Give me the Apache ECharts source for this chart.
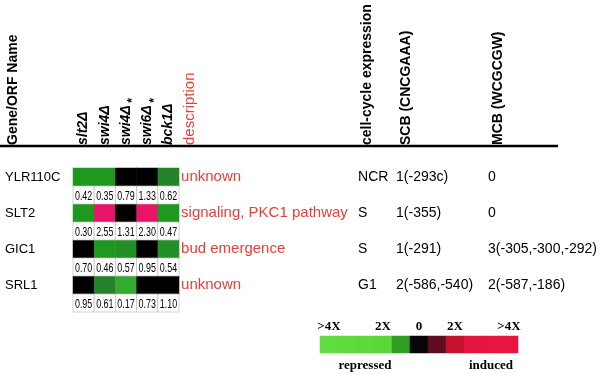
<!DOCTYPE html>
<html>
<head>
<meta charset="utf-8">
<script src="https://cdn.jsdelivr.net/npm/echarts@6/dist/echarts.min.js"></script>
<style>
  html, body { margin: 0; background: #fff; }
  #chart { width: 600px; height: 374px; }
</style>
</head>
<body>
<div id="chart"></div>
<script>
var genes = ['YLR110C', 'SLT2', 'GIC1', 'SRL1'];
var strains = ['slt2Δ', 'swi4Δ', 'swi4Δ*', 'swi6Δ*', 'bck1Δ'];
var ratios = [
  [0.42, 0.35, 0.79, 1.33, 0.62],
  [0.30, 2.55, 1.31, 2.30, 0.47],
  [0.70, 0.46, 0.57, 0.95, 0.54],
  [0.95, 0.61, 0.17, 0.73, 1.10]
];
var descriptions = ['unknown', 'signaling, PKC1 pathway', 'bud emergence', 'unknown'];
var cellCycle = ['NCR', 'S', 'S', 'G1'];
var scb = ['1(-293c)', '1(-355)', '1(-291)', '2(-586,-540)'];
var mcb = ['0', '0', '3(-305,-300,-292)', '2(-587,-186)'];
var legendTop = ['>4X', '', '', '2X', '', '0', '', '2X', '', '', '>4X'];
var legendBottom = ['', '', 'repressed', '', '', '', '', '', '', 'induced', ''];

// colours of the key strip, left to right
var keyColors = ['#62dc3e', '#60db3c', '#5ed93b', '#5bd739', '#2f9f24', '#060606',
  '#5e0c22', '#c4122f', '#e3143f', '#e6163f', '#e8163f'];

var sans = 'Liberation Sans, Arial, sans-serif';
var serif = 'Liberation Serif, Times New Roman, serif';

// one row for the colours, one row for the numbers, per gene
var rows = [];
genes.forEach(function (g) { rows.push(g); rows.push(g + ' ratios'); });

var cells = [], values = [];
ratios.forEach(function (r, i) {
  r.forEach(function (v, j) {
    cells.push([j, 2 * i, v]);
    values.push([j, 2 * i + 1, v]);
  });
});

var keyData = keyColors.map(function (c, k) {
  return { value: [k, 0, k], itemStyle: { color: c } };
});
var keyCats = keyColors.map(function (c, k) { return 'k' + k; });

function rowText(list) {
  return function (v, i) { return i % 2 ? '' : list[i / 2]; };
}

function textAxis(list, offset, color) {
  return {
    type: 'category', gridIndex: 0, data: rows, inverse: true,
    position: 'right', offset: offset,
    axisLine: { show: false }, axisTick: { show: false },
    axisLabel: {
      interval: 0, margin: 2, formatter: rowText(list),
      color: color, fontFamily: sans, fontSize: color === '#000' ? 14 : 15
    }
  };
}

function header(text, x, color, weight, size) {
  return {
    type: 'text', x: x, y: 145, rotation: Math.PI / 2,
    style: {
      text: text, fill: color, font: weight + ' ' + size + 'px ' + sans,
      textAlign: 'left', textVerticalAlign: 'middle'
    }
  };
}

// the white boxes holding the ratio numbers, text squeezed like the original
function renderValue(params, api) {
  var c = api.coord([api.value(0), api.value(1)]);
  var s = api.size([1, 1]);
  return {
    type: 'group',
    children: [
      {
        type: 'rect',
        shape: { x: c[0] - s[0] / 2, y: c[1] - s[1] / 2, width: s[0], height: s[1] },
        style: { fill: '#fff', stroke: '#bdbdbd', lineWidth: 0.7 }
      },
      {
        type: 'text', x: c[0], y: c[1] + 1, scaleX: 0.66,
        style: {
          text: api.value(2).toFixed(2), fill: '#000', font: '13.5px ' + sans,
          textAlign: 'center', textVerticalAlign: 'middle'
        }
      }
    ]
  };
}

var chart = echarts.init(document.getElementById('chart'));
chart.setOption({
  animation: false,
  backgroundColor: '#fff',
  grid: [
    { left: 73, top: 168, width: 108, height: 144 },
    { left: 320, top: 336, width: 198, height: 17 }
  ],
  xAxis: [
    {
      type: 'category', gridIndex: 0, data: strains, position: 'top',
      axisLine: { show: false }, axisTick: { show: false }, splitLine: { show: false },
      axisLabel: {
        interval: 0, rotate: -90, margin: 23, color: '#000',
        fontFamily: sans, fontSize: 14, fontWeight: 'bold', fontStyle: 'italic',
        formatter: function (s) {
          return s.indexOf('*') >= 0 ? s.replace('*', '') + '{star|*}' : s;
        },
        rich: {
          star: { fontSize: 12, fontWeight: 'bold', color: '#000', padding: [14, 0, 0, 2] }
        }
      }
    },
    {
      type: 'category', gridIndex: 1, data: keyCats, position: 'top',
      axisLine: { show: false }, axisTick: { show: false },
      axisLabel: {
        interval: 0, margin: 3, color: '#000', fontFamily: serif,
        fontSize: 13, fontWeight: 'bold',
        formatter: function (v, i) { return legendTop[i]; }
      }
    },
    {
      type: 'category', gridIndex: 1, data: keyCats, position: 'bottom',
      axisLine: { show: false }, axisTick: { show: false },
      axisLabel: {
        interval: 0, margin: 6, color: '#000', fontFamily: serif,
        fontSize: 13, fontWeight: 'bold',
        formatter: function (v, i) { return legendBottom[i]; }
      }
    }
  ],
  yAxis: [
    {
      type: 'category', gridIndex: 0, data: rows, inverse: true, position: 'left',
      axisLine: { show: false }, axisTick: { show: false },
      axisLabel: {
        interval: 0, align: 'left', margin: 68, color: '#000',
        fontFamily: sans, fontSize: 13, formatter: rowText(genes)
      }
    },
    textAxis(descriptions, 0, '#e5403a'),
    textAxis(cellCycle, 177, '#000'),
    textAxis(scb, 215, '#000'),
    textAxis(mcb, 307, '#000'),
    { type: 'category', gridIndex: 1, data: ['key'], show: false }
  ],
  visualMap: {
    type: 'piecewise', show: false, seriesIndex: 0, dimension: 2,
    pieces: [
      { lt: 0.25, color: '#34aa32' },
      { gte: 0.25, lt: 0.5, color: '#1f981f' },
      { gte: 0.5, lt: 0.6, color: '#238f27' },
      { gte: 0.6, lt: 0.65, color: '#24822a' },
      { gte: 0.65, lt: 1.5, color: '#000000' },
      { gte: 1.5, color: '#e8146c' }
    ]
  },
  series: [
    {
      type: 'heatmap', xAxisIndex: 0, yAxisIndex: 0, data: cells,
      itemStyle: { borderWidth: 0 }, emphasis: { disabled: true }
    },
    {
      type: 'custom', xAxisIndex: 0, yAxisIndex: 0, data: values,
      renderItem: renderValue
    },
    {
      type: 'heatmap', xAxisIndex: 1, yAxisIndex: 5, data: keyData,
      emphasis: { disabled: true }
    }
  ],
  graphic: [
    header('Gene/ORF Name', 13, '#000', 'bold', 14),
    header('description', 190, '#e5403a', 'normal', 15),
    header('cell-cycle expression', 367, '#000', 'bold', 14),
    header('SCB (CNCGAAA)', 406, '#000', 'bold', 14),
    header('MCB (WCGCGW)', 498, '#000', 'bold', 14),
    {
      type: 'line', shape: { x1: 0, y1: 146, x2: 558, y2: 146 },
      style: { stroke: '#000', lineWidth: 2.5 }
    }
  ]
});
</script>
</body>
</html>
